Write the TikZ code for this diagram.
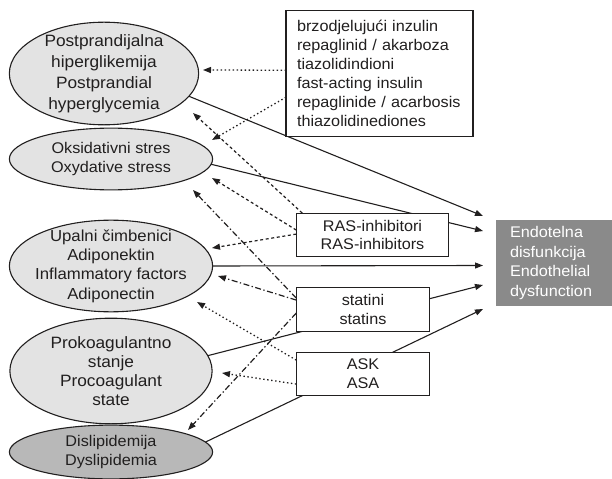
\documentclass[tikz,border=0pt]{standalone}
\usepackage{fontspec}
\setmainfont{Liberation Sans}[FakeStretch=1.05]
\usetikzlibrary{arrows.meta,calc,backgrounds,shapes.geometric}
\definecolor{ellfill}{gray}{0.89}
\definecolor{elldark}{gray}{0.72}
\definecolor{endofill}{gray}{0.54}
\definecolor{ink}{rgb}{0.13,0.12,0.12}
\begin{document}
\begin{tikzpicture}[x=1bp,y=-1bp,
  every node/.style={inner sep=0pt, outer sep=0pt, text=ink},
  ellshape/.style={ellipse, draw=ink, line width=1.1bp, fill=ellfill},
  elltext/.style={align=center, font=\fontsize{15.5}{19.5}\selectfont},
  boxnode/.style={rectangle, draw=ink, line width=1.1bp, fill=white, align=center, font=\fontsize{15.5}{19}\selectfont},
  arr/.style={-{Triangle[length=8bp,width=6bp]}, line width=1.1bp, draw=ink},
  dotline/.style={arr, line width=1.3bp, dash pattern=on 1.4bp off 2.6bp},
  dashline/.style={arr, line width=1.2bp, dash pattern=on 3bp off 2.6bp},
  dashdotline/.style={arr, line width=1.2bp, dash pattern=on 6bp off 2.5bp on 1.3bp off 2.5bp}
]
\useasboundingbox (0,0) rectangle (612,479);

% ellipses
\node[ellshape, minimum width=190, minimum height=103] (e1) at (104,73.5) {};
\node[elltext, font=\fontsize{16.5}{21}\selectfont] (e1t) at (e1) {Postprandijalna\\hiperglikemija\\Postprandial\\hyperglycemia};
\node[ellshape, minimum width=204, minimum height=62] (e2) at (111,159) {};
\node[elltext] (e2t) at (e2) {Oksidativni stres\\Oxydative stress};
\node[ellshape, minimum width=204, minimum height=92] (e3) at (111,266) {};
\node[elltext, font=\fontsize{16}{19.5}\selectfont] (e3t) at (e3) {Upalni čimbenici\\Adiponektin\\Inflammatory factors\\Adiponectin};
\node[ellshape, minimum width=203, minimum height=106] (e4) at (111,371) {};
\node[elltext, font=\fontsize{16.5}{19}\selectfont] (e4t) at (e4) {Prokoagulantno\\stanje\\Procoagulant\\state};
\node[ellshape, fill=elldark, minimum width=204, minimum height=54] (e5) at (111,452) {};
\node[elltext] (e5t) at (e5) {Dislipidemija\\Dyslipidemia};

% boxes
\node[boxnode, align=left, text width=165bp, inner xsep=11bp, minimum height=127] (drugs) at (379.5,73.5)
  {brzodjelujući inzulin\\repaglinid / akarboza\\tiazolidindioni\\fast-acting insulin\\repaglinide / acarbosis\\thiazolidinediones};
\node[boxnode, minimum width=153, minimum height=44] (ras) at (372.5,235) {RAS-inhibitori\\RAS-inhibitors};
\node[boxnode, minimum width=134, minimum height=45] (stat) at (363,309.5) {statini\\statins};
\node[boxnode, minimum width=134, minimum height=44] (ask) at (363,374) {ASK\\ASA};
\node[rectangle, fill=endofill, text=white, align=left, text width=88bp, inner xsep=14bp, minimum height=86,
  font=\fontsize{15.5}{19.5}\selectfont] (endo) at (554,263) {Endotelna\\disfunkcija\\Endothelial\\dysfunction};

% arrow tips
\coordinate (t1) at (483,216);
\coordinate (t2) at (483,231);
\coordinate (t3) at (483,265.5);
\coordinate (t4) at (483,285);
\coordinate (t5) at (483,309);
\coordinate (d1) at (203,70);
\coordinate (d2) at (212,140);
\coordinate (r1) at (193,113);
\coordinate (r2) at (212,178);
\coordinate (r3) at (212,248);
\coordinate (s1) at (193,190);
\coordinate (s2) at (218,276);
\coordinate (s3) at (188,430);
\coordinate (a1) at (197,302);
\coordinate (a2) at (222,373);

\begin{scope}[on background layer]
\draw[arr] (e1.-15) -- (t1);
\draw[arr] (e2.-3) -- (t2);
\draw[arr] (e3.east) -- (t3);
\draw[arr] (e4.9) -- (t4);
\draw[arr] (e5.6) -- (t5);
\draw[dotline] ($(drugs.north west)+(0,60)$) -- (d1);
\draw[dotline] ($(drugs.north west)+(0,87)$) -- (d2);
\draw[dashline] ($(ras.north west)+(6,0)$) -- (r1);
\draw[dashline] ($(ras.north west)+(0,17)$) -- (r2);
\draw[dashline] ($(ras.north west)+(0,21)$) -- (r3);
\draw[dashdotline] ($(stat.north west)+(0,11)$) -- (s1);
\draw[dashdotline] ($(stat.north west)+(0,13)$) -- (s2);
\draw[dashdotline] ($(stat.north west)+(0,26)$) -- (s3);
\draw[dotline] ($(ask.north west)+(0,8)$) -- (a1);
\draw[dotline] ($(ask.north west)+(0,32)$) -- (a2);
\end{scope}
\end{tikzpicture}
\end{document}
